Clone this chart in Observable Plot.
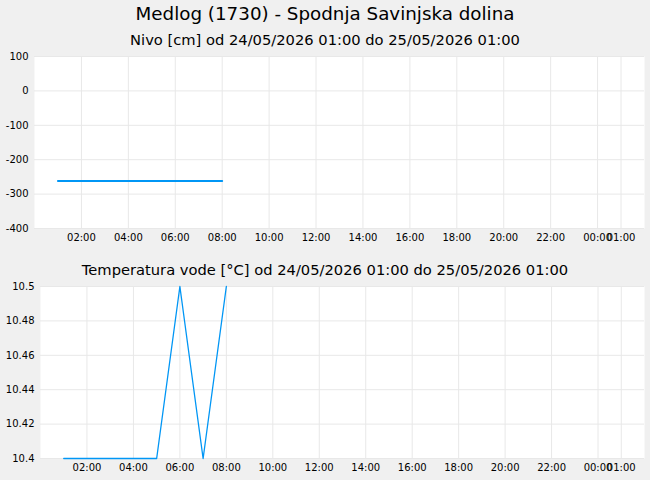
<!DOCTYPE html>
<html>
<head>
<meta charset="utf-8">
<script src="https://cdn.jsdelivr.net/npm/d3@7"></script>
<script src="https://cdn.jsdelivr.net/npm/@observablehq/plot@0.6"></script>
<style>
  html, body { margin: 0; padding: 0; background: #f0f0f0; }
  body { width: 650px; height: 480px; position: relative; overflow: hidden; font-family: "DejaVu Sans", sans-serif; }
  .t { position: absolute; left: 0; width: 650px; text-align: center; color: #000; white-space: nowrap; }
  #title { top: 3px; font-size: 18.3px; }
  #sub1 { top: 31px; font-size: 14.7px; }
  #sub2 { top: 261px; font-size: 14.7px; }
  #c1 { position: absolute; left: 0; top: 50px; }
  #c2 { position: absolute; left: 0; top: 280px; }
</style>
</head>
<body>
<div class="t" id="title">Medlog (1730) - Spodnja Savinjska dolina</div>
<div class="t" id="sub1">Nivo [cm] od 24/05/2026 01:00 do 25/05/2026 01:00</div>
<div class="t" id="sub2">Temperatura vode [°C] od 24/05/2026 01:00 do 25/05/2026 01:00</div>
<div id="c1"></div>
<div id="c2"></div>
<script>
// ---- data ----
const times = ["2026-05-24T01:00Z","2026-05-24T02:00Z","2026-05-24T03:00Z","2026-05-24T04:00Z",
               "2026-05-24T05:00Z","2026-05-24T06:00Z","2026-05-24T07:00Z","2026-05-24T08:00Z"];
const levelValues = [-262, -262, -262, -262, -262, -262, -262, -262];
const tempValues = [10.4, 10.4, 10.4, 10.4, 10.4, 10.5, 10.4, 10.5];
const xDomain = ["2026-05-24T00:00Z", "2026-05-25T02:00Z"];
const xTicks = ["2026-05-24T02:00Z","2026-05-24T04:00Z","2026-05-24T06:00Z","2026-05-24T08:00Z",
                "2026-05-24T10:00Z","2026-05-24T12:00Z","2026-05-24T14:00Z","2026-05-24T16:00Z",
                "2026-05-24T18:00Z","2026-05-24T20:00Z","2026-05-24T22:00Z","2026-05-25T00:00Z",
                "2026-05-25T01:00Z"];
const levelTicks = [100, 0, -100, -200, -300, -400];
const tempTicks = [10.4, 10.42, 10.44, 10.46, 10.48, 10.5];

// ---- build ----
const toDate = s => new Date(s);
const levelData = times.map((t, i) => ({time: toDate(t), value: levelValues[i]}));
const tempData = times.map((t, i) => ({time: toDate(t), value: tempValues[i]}));
const xt = xTicks.map(toDate);
const fmt = d3.utcFormat("%H:%M");
const lineColor = "#0096f5";
const gridColor = "#e8e8e8";

function chart({data, yDomain, yTicks, yFormat, marginLeft, strokeWidth}) {
  return Plot.plot({
    width: 650,
    height: 200,
    marginTop: 6,
    marginBottom: 22,
    marginLeft,
    marginRight: 6,
    style: {background: "transparent", fontFamily: "DejaVu Sans, sans-serif", fontSize: "10px", color: "#000"},
    x: {type: "utc", domain: xDomain.map(toDate), label: null},
    y: {domain: yDomain, label: null},
    marks: [
      Plot.frame({fill: "white"}),
      Plot.gridX(xt, {stroke: gridColor, strokeOpacity: 1}),
      Plot.gridY(yTicks, {stroke: gridColor, strokeOpacity: 1}),
      Plot.axisX(xt, {tickSize: 0, tickPadding: 5, tickFormat: fmt, label: null, fill: "#000"}),
      Plot.axisY(yTicks, {tickSize: 0, tickPadding: 6, tickFormat: yFormat, label: null, fill: "#000"}),
      Plot.lineY(data, {x: "time", y: "value", stroke: lineColor, strokeWidth})
    ]
  });
}

document.getElementById("c1").append(chart({
  data: levelData, yDomain: [-400, 100], yTicks: levelTicks, yFormat: d => String(d),
  marginLeft: 34, strokeWidth: 2
}));
document.getElementById("c2").append(chart({
  data: tempData, yDomain: [10.4, 10.5], yTicks: tempTicks, yFormat: d => String(+d.toFixed(2)),
  marginLeft: 40, strokeWidth: 1.3
}));
</script>
</body>
</html>
